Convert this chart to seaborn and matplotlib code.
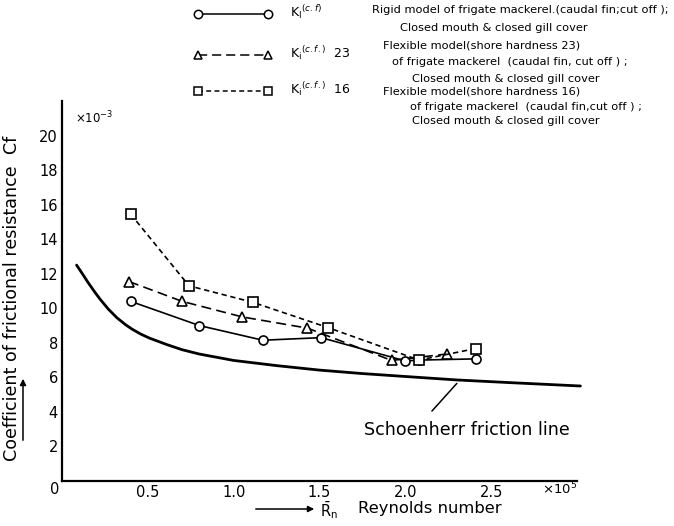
import matplotlib
matplotlib.use("Agg")
import matplotlib.pyplot as plt
from matplotlib.lines import Line2D
from matplotlib.patches import FancyArrowPatch
import seaborn as sns
import pandas as pd

# Reynolds number (x 10^5) and friction coefficient Cf (x 10^-3)
rigid_re = [0.40, 0.80, 1.17, 1.51, 2.00, 2.08, 2.41]
rigid_cf = [10.4, 9.0, 8.15, 8.3, 6.95, 7.0, 7.07]

flex23_re = [0.39, 0.70, 1.05, 1.43, 1.92, 2.24]
flex23_cf = [11.55, 10.4, 9.5, 8.85, 6.98, 7.35]

flex16_re = [0.40, 0.74, 1.11, 1.55, 2.08, 2.41]
flex16_cf = [15.45, 11.3, 10.35, 8.88, 7.0, 7.67]

schoenherr_re = [0.085, 0.12, 0.15, 0.19, 0.22, 0.27, 0.32, 0.37, 0.41, 0.46,
                 0.51, 0.61, 0.70, 0.80, 1.0, 1.25, 1.5, 1.75, 2.0, 2.3,
                 2.6, 3.02]
schoenherr_cf = [12.5, 11.98, 11.52, 10.95, 10.55, 9.95, 9.45, 9.05, 8.78,
                 8.5, 8.27, 7.9, 7.6, 7.35, 6.98, 6.68, 6.42, 6.22, 6.05,
                 5.85, 5.7, 5.5]

x_ticks = [0.5, 1.0, 1.5, 2.0, 2.5]
x_tick_labels = ["0.5", "1.0", "1.5", "2.0", "2.5"]
y_ticks = [2, 4, 6, 8, 10, 12, 14, 16, 18, 20]

sns.set_theme(style="white")
plt.rcParams["font.family"] = ["DejaVu Sans"]
plt.rcParams.update({"text.color": "black", "axes.labelcolor": "black",
                     "xtick.color": "black", "ytick.color": "black"})

W, H = 674, 526
fig = plt.figure(figsize=(W / 100, H / 100), dpi=100)
ax = fig.add_axes([62 / W, 1 - 481 / H, (577 - 62) / W, (481 - 101) / H])


def fx(x):
    return x / W


def fy(y):
    return 1 - y / H


series = [
    (rigid_re, rigid_cf, "o", "-"),
    (flex23_re, flex23_cf, "^", (0, (6, 3.2))),
    (flex16_re, flex16_cf, "s", (0, (3.2, 2.2))),
]
for xs, ys, mk, ls in series:
    df = pd.DataFrame({"Re": xs, "Cf": ys})
    sns.lineplot(data=df, x="Re", y="Cf", ax=ax, color="black", lw=1.2,
                 linestyle=ls, marker=mk, markersize=6.5, markerfacecolor="white",
                 markeredgecolor="black", markeredgewidth=1.2, zorder=3)

sch = pd.DataFrame({"Re": schoenherr_re, "Cf": schoenherr_cf})
sns.lineplot(data=sch, x="Re", y="Cf", ax=ax, color="black", lw=2.0,
             clip_on=False, zorder=2)

ax.set_xlim(0, 3.0)
ax.set_ylim(0, 22)
ax.set_xticks(x_ticks)
ax.set_xticklabels(x_tick_labels)
ax.set_yticks(y_ticks)
ax.tick_params(direction="in", length=4, width=1, colors="black",
               labelsize=10.5, pad=3)
for s in ("top", "right"):
    ax.spines[s].set_visible(False)
for s in ("left", "bottom"):
    ax.spines[s].set_color("black")
    ax.spines[s].set_linewidth(1.6)
ax.set_xlabel("")
ax.set_ylabel("")
ax.grid(False)

# origin label and scale factors
fig.text(fx(55), fy(490), "0", ha="center", va="center", fontsize=10.5)
fig.text(fx(75), fy(118), r"$\times10^{-3}$", ha="left", va="center", fontsize=8.5)
fig.text(fx(560), fy(489), r"$\times10^{5}$", ha="center", va="center", fontsize=9.5)

# axis titles with arrows
fig.text(fx(12), fy(298), "Coefficient of frictional resistance  Cf",
         rotation=90, ha="center", va="center", fontsize=12.6)
fig.add_artist(FancyArrowPatch(
    (fx(23), fy(443)), (fx(23), fy(376)), transform=fig.transFigure,
    arrowstyle="-|>", mutation_scale=9, color="black", lw=1.1))
fig.add_artist(FancyArrowPatch(
    (fx(253), fy(509)), (fx(317), fy(509)), transform=fig.transFigure,
    arrowstyle="-|>", mutation_scale=9, color="black", lw=1.1))
fig.text(fx(320), fy(510), r"$\bar{\mathrm{R}}_\mathrm{n}$", ha="left",
         va="center", fontsize=10.5)
fig.text(fx(358), fy(508), "Reynolds number", ha="left", va="center",
         fontsize=11.8)

# Schoenherr annotation
ax.annotate("", xy=(2.30, 5.65), xytext=(2.155, 4.05),
            arrowprops=dict(arrowstyle="-", color="black", lw=1.1,
                            shrinkA=0, shrinkB=0))
ax.text(1.76, 2.95, "Schoenherr friction line", ha="left", va="center",
        fontsize=12.6)

# key at the top
key_rows = [
    ("o", "-", 14, r"$\mathrm{K_I}^{(c.f)}$",
     [("Rigid model of frigate mackerel.(caudal fin;cut off );", 372, 10),
      ("Closed mouth & closed gill cover", 400, 28)]),
    ("^", (0, (6, 3.2)), 55, r"$\mathrm{K_i}^{(c.f.)}$  23",
     [("Flexible model(shore hardness 23)", 383, 45),
      ("of frigate mackerel  (caudal fin, cut off ) ;", 392, 62),
      ("Closed mouth & closed gill cover", 412, 79)]),
    ("s", (0, (3.2, 2.2)), 91, r"$\mathrm{K_i}^{(c.f.)}$  16",
     [("Flexible model(shore hardness 16)", 383, 92),
      ("of frigate mackerel  (caudal fin,cut off ) ;", 410, 107),
      ("Closed mouth & closed gill cover", 412, 121)]),
]
for mk, ls, y, klabel, lines in key_rows:
    fig.add_artist(Line2D([fx(198), fx(268)], [fy(y), fy(y)],
                          transform=fig.transFigure, color="black", lw=1.1,
                          linestyle=ls))
    fig.add_artist(Line2D([fx(198), fx(268)], [fy(y), fy(y)],
                          transform=fig.transFigure, linestyle="none",
                          marker=mk, markersize=6, markerfacecolor="white",
                          markeredgecolor="black", markeredgewidth=1.1))
    fig.text(fx(290), fy(y - 2), klabel, ha="left", va="center", fontsize=9)
    for txt, tx, ty in lines:
        fig.text(fx(tx), fy(ty), txt, ha="left", va="center", fontsize=8.2)

fig.savefig("out.png", dpi=100)
